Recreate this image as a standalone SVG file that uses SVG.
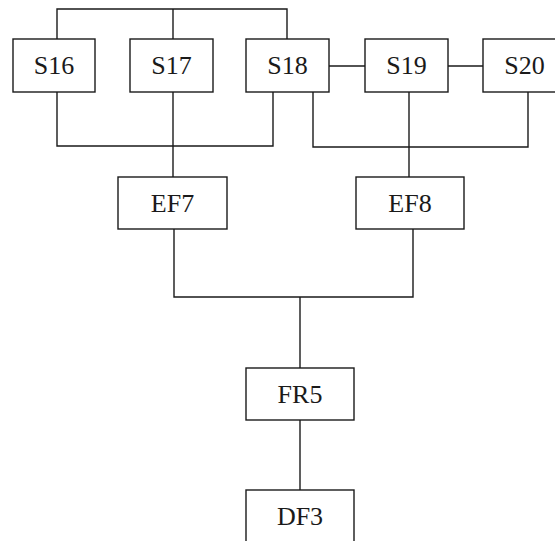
<svg xmlns="http://www.w3.org/2000/svg" width="555" height="541" viewBox="0 0 555 541">
<style>
.box{fill:#fff;stroke:#1a1a1a;stroke-width:1.4}
.lbl{font-family:"Liberation Serif","Times New Roman",serif;font-size:26px;fill:#1a1a1a;text-anchor:middle;dominant-baseline:central}
.ln{fill:none;stroke:#1a1a1a;stroke-width:1.4}
</style>
<rect width="555" height="541" fill="#fff"/>
<g id="connectors" class="ln">
<polyline points="57,39 57,9 287,9 287,39"/>
<line x1="173" y1="9" x2="173" y2="39"/>
<polyline points="57,92 57,146 273,146 273,92"/>
<line x1="173" y1="92" x2="173" y2="177"/>
<line x1="329" y1="66" x2="365" y2="66"/>
<line x1="448" y1="66" x2="483" y2="66"/>
<polyline points="313,92 313,147 528,147 528,92"/>
<line x1="409" y1="92" x2="409" y2="177"/>
<polyline points="174,229 174,297 413,297 413,229"/>
<line x1="300" y1="297" x2="300" y2="368"/>
<line x1="300" y1="420" x2="300" y2="490"/>
</g>
<g id="S16"><rect class="box" x="13" y="39" width="82" height="53"/><text class="lbl" x="54" y="65.5">S16</text></g>
<g id="S17"><rect class="box" x="130" y="39" width="83" height="53"/><text class="lbl" x="171.5" y="65.5">S17</text></g>
<g id="S18"><rect class="box" x="246" y="39" width="83" height="53"/><text class="lbl" x="287.5" y="65.5">S18</text></g>
<g id="S19"><rect class="box" x="365" y="39" width="83" height="53"/><text class="lbl" x="406.5" y="65.5">S19</text></g>
<g id="S20"><rect class="box" x="483" y="39" width="83" height="53"/><text class="lbl" x="524.5" y="65.5">S20</text></g>
<g id="EF7"><rect class="box" x="118" y="177" width="109" height="52"/><text class="lbl" x="172.5" y="203">EF7</text></g>
<g id="EF8"><rect class="box" x="356" y="177" width="108" height="52"/><text class="lbl" x="410" y="203">EF8</text></g>
<g id="FR5"><rect class="box" x="246" y="368" width="108" height="52"/><text class="lbl" x="300" y="394">FR5</text></g>
<g id="DF3"><rect class="box" x="246" y="490" width="108" height="52"/><text class="lbl" x="300" y="516">DF3</text></g>
</svg>
